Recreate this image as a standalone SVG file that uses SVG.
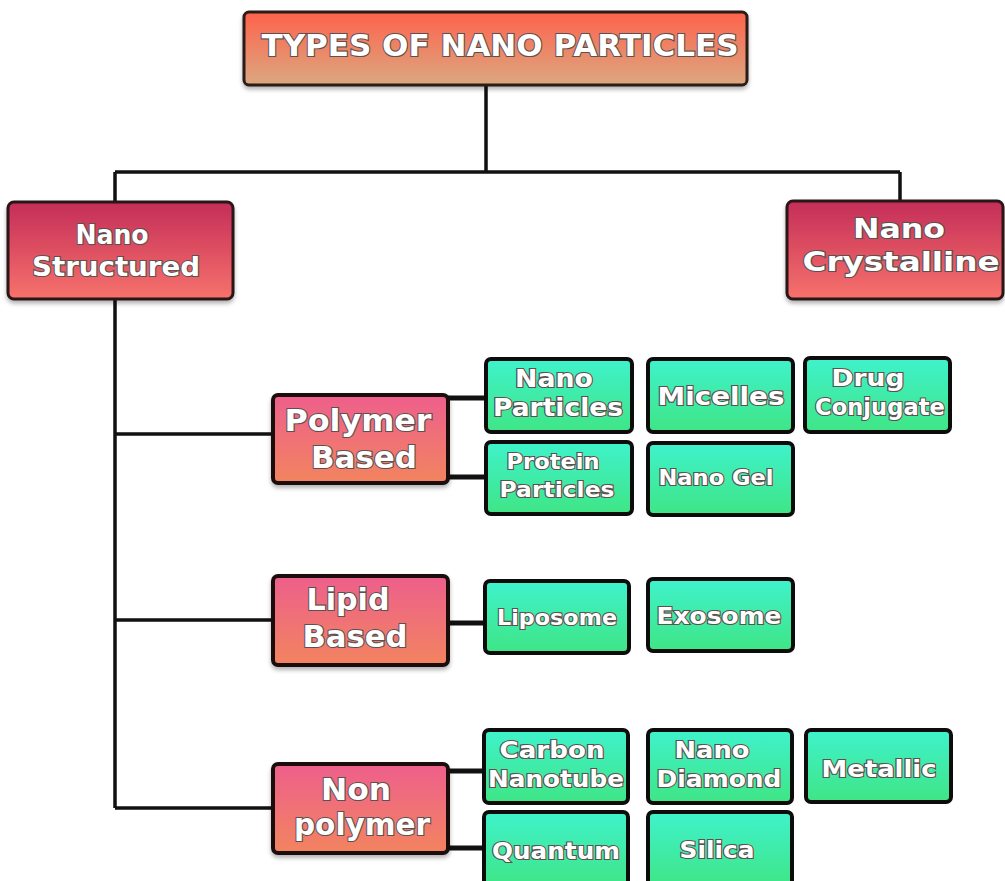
<svg xmlns="http://www.w3.org/2000/svg" width="1005" height="881" viewBox="0 0 1005 881">
<defs>
<linearGradient id="gTitle" x1="0" y1="0" x2="0" y2="1"><stop offset="0" stop-color="#fe624c"/><stop offset="1" stop-color="#dba880"/></linearGradient>
<linearGradient id="gMain" x1="0" y1="0" x2="0" y2="1"><stop offset="0" stop-color="#c42d58"/><stop offset="1" stop-color="#f7726c"/></linearGradient>
<linearGradient id="gSub" x1="0" y1="0" x2="0" y2="1"><stop offset="0" stop-color="#ee5f8c"/><stop offset="1" stop-color="#f2845f"/></linearGradient>
<linearGradient id="gLeaf" x1="0" y1="0" x2="0" y2="1"><stop offset="0" stop-color="#3ff2cc"/><stop offset="1" stop-color="#3fe585"/></linearGradient>
<filter id="sh" x="-10%" y="-10%" width="120%" height="130%"><feDropShadow dx="0" dy="3" stdDeviation="2" flood-color="#000" flood-opacity="0.3"/></filter>
</defs>
<style>
.t{font-family:"DejaVu Sans","Liberation Sans",sans-serif;font-weight:bold;fill:#fff;stroke:#5d5050;stroke-width:2.2px;paint-order:stroke;text-anchor:middle}
.title{fill:url(#gTitle);stroke:#2a1a14;stroke-width:3}
.main{fill:url(#gMain);stroke:#2a1418;stroke-width:3}
.sub{fill:url(#gSub);stroke:#1a0e10;stroke-width:4}
.leaf{fill:url(#gLeaf);stroke:#0c0c0c;stroke-width:4}
.ln{stroke:#111;stroke-width:3.5;fill:none}
.lt{stroke:#111;stroke-width:5;fill:none}
</style>
<rect width="1005" height="881" fill="#fff"/>
<g id="connectors">
<path class="ln" d="M486 86V172M115 172H900M115 172V202M900 172V200"/>
<path class="ln" d="M115 300V808M115 434H273M115 620H273M115 808H273"/>
<path class="lt" d="M448 398H486M448 477H486M448 623H485M448 771H484M448 848H484"/>
</g>
<g id="title"><rect class="title" x="244" y="12" width="503" height="73" rx="5" filter="url(#sh)"/><text class="t" x="500" y="56" font-size="31" textLength="477" lengthAdjust="spacingAndGlyphs">TYPES OF NANO PARTICLES</text></g>
<g id="nano-structured"><rect class="main" x="8" y="202" width="225" height="97" rx="6" filter="url(#sh)"/><text class="t" x="112" y="244" font-size="27" textLength="73" lengthAdjust="spacingAndGlyphs">Nano</text><text class="t" x="116" y="276" font-size="27" textLength="168" lengthAdjust="spacingAndGlyphs">Structured</text></g>
<g id="nano-crystalline"><rect class="main" x="787" y="201" width="216" height="98" rx="6" filter="url(#sh)"/><text class="t" x="899" y="238" font-size="27" textLength="92" lengthAdjust="spacingAndGlyphs">Nano</text><text class="t" x="901" y="271" font-size="27" textLength="197" lengthAdjust="spacingAndGlyphs">Crystalline</text></g>
<g id="polymer-based"><rect class="sub" x="273" y="395" width="175" height="88" rx="5" filter="url(#sh)"/><text class="t" x="358" y="431" font-size="30" textLength="147" lengthAdjust="spacingAndGlyphs">Polymer</text><text class="t" x="364" y="468" font-size="30" textLength="106" lengthAdjust="spacingAndGlyphs">Based</text></g>
<g id="lipid-based"><rect class="sub" x="273" y="576" width="175" height="89" rx="5" filter="url(#sh)"/><text class="t" x="348" y="610" font-size="30" textLength="83" lengthAdjust="spacingAndGlyphs">Lipid</text><text class="t" x="355" y="647" font-size="30" textLength="105" lengthAdjust="spacingAndGlyphs">Based</text></g>
<g id="non-polymer"><rect class="sub" x="273" y="764" width="175" height="89" rx="5" filter="url(#sh)"/><text class="t" x="356" y="800" font-size="30" textLength="70" lengthAdjust="spacingAndGlyphs">Non</text><text class="t" x="362" y="835" font-size="30" textLength="136" lengthAdjust="spacingAndGlyphs">polymer</text></g>
<g id="nano-particles"><rect class="leaf" x="486" y="359" width="146" height="73" rx="5"/><text class="t" x="554" y="387" font-size="24" textLength="78" lengthAdjust="spacingAndGlyphs">Nano</text><text class="t" x="558" y="416" font-size="24" textLength="130" lengthAdjust="spacingAndGlyphs">Particles</text></g>
<g id="micelles"><rect class="leaf" x="648" y="359" width="145" height="73" rx="5"/><text class="t" x="721" y="405" font-size="25" textLength="127" lengthAdjust="spacingAndGlyphs">Micelles</text></g>
<g id="drug-conjugate"><rect class="leaf" x="805" y="358" width="145" height="74" rx="5"/><text class="t" x="868" y="386" font-size="23" textLength="73" lengthAdjust="spacingAndGlyphs">Drug</text><text class="t" x="880" y="415" font-size="23" textLength="130" lengthAdjust="spacingAndGlyphs">Conjugate</text></g>
<g id="protein-particles"><rect class="leaf" x="486" y="442" width="146" height="72" rx="5"/><text class="t" x="553" y="469" font-size="21" textLength="93" lengthAdjust="spacingAndGlyphs">Protein</text><text class="t" x="557" y="497" font-size="21" textLength="115" lengthAdjust="spacingAndGlyphs">Particles</text></g>
<g id="nano-gel"><rect class="leaf" x="648" y="443" width="145" height="72" rx="5"/><text class="t" x="716" y="485" font-size="21" textLength="115" lengthAdjust="spacingAndGlyphs">Nano Gel</text></g>
<g id="liposome"><rect class="leaf" x="485" y="581" width="144" height="72" rx="5"/><text class="t" x="557" y="625" font-size="22" textLength="120" lengthAdjust="spacingAndGlyphs">Liposome</text></g>
<g id="exosome"><rect class="leaf" x="648" y="579" width="145" height="72" rx="5"/><text class="t" x="719" y="624" font-size="23" textLength="125" lengthAdjust="spacingAndGlyphs">Exosome</text></g>
<g id="carbon-nanotube"><rect class="leaf" x="484" y="730" width="144" height="73" rx="5"/><text class="t" x="552" y="758" font-size="23" textLength="105" lengthAdjust="spacingAndGlyphs">Carbon</text><text class="t" x="556" y="787" font-size="23" textLength="136" lengthAdjust="spacingAndGlyphs">Nanotube</text></g>
<g id="nano-diamond"><rect class="leaf" x="648" y="730" width="144" height="73" rx="5"/><text class="t" x="712" y="758" font-size="23" textLength="75" lengthAdjust="spacingAndGlyphs">Nano</text><text class="t" x="719" y="787" font-size="23" textLength="125" lengthAdjust="spacingAndGlyphs">Diamond</text></g>
<g id="metallic"><rect class="leaf" x="806" y="730" width="145" height="72" rx="5"/><text class="t" x="879" y="777" font-size="23" textLength="115" lengthAdjust="spacingAndGlyphs">Metallic</text></g>
<g id="quantum"><rect class="leaf" x="484" y="812" width="144" height="76" rx="5"/><text class="t" x="556" y="859" font-size="23" textLength="128" lengthAdjust="spacingAndGlyphs">Quantum</text></g>
<g id="silica"><rect class="leaf" x="648" y="812" width="144" height="76" rx="5"/><text class="t" x="717" y="858" font-size="23" textLength="75" lengthAdjust="spacingAndGlyphs">Silica</text></g>
</svg>
